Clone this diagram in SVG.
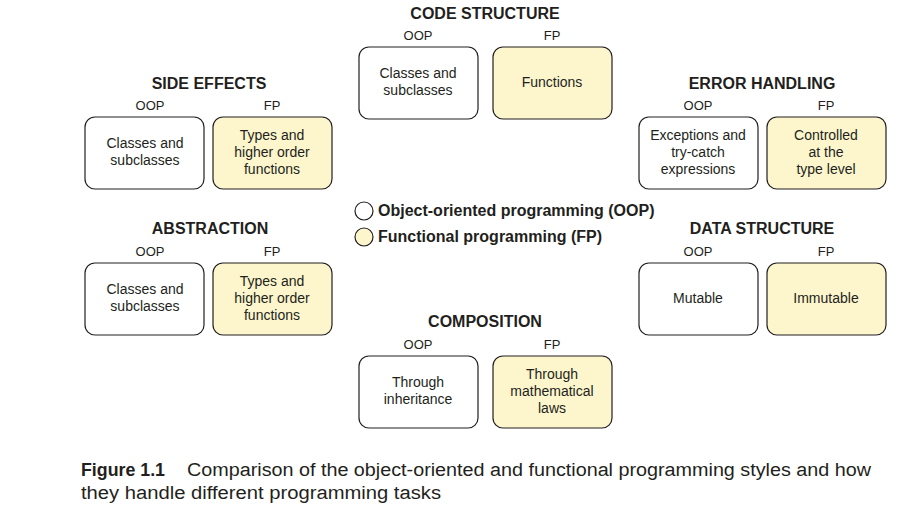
<svg xmlns="http://www.w3.org/2000/svg" width="913" height="515" viewBox="0 0 913 515">
<style>
.bg{fill:#fff}
.oop{fill:#fff;stroke:#231f20;stroke-width:1.2}
.fp{fill:#fdf6cd;stroke:#231f20;stroke-width:1.2}
.l{font-family:"Liberation Sans",Arial,sans-serif;font-size:13px;fill:#231f20;text-anchor:middle}
.t{font-family:"Liberation Sans",Arial,sans-serif;font-size:14px;fill:#231f20;text-anchor:middle}
.h{font-family:"Liberation Sans",Arial,sans-serif;font-size:16px;font-weight:bold;fill:#231f20;text-anchor:middle}
.lg{font-family:"Liberation Sans",Arial,sans-serif;font-size:16px;font-weight:bold;fill:#231f20}
.cap{font-family:"Liberation Sans",Arial,sans-serif;font-size:18px;fill:#231f20}
</style>
<rect class="bg" width="913" height="515"/>
<g id="code-structure">
<text class="h" x="485" y="19">CODE STRUCTURE</text>
<text class="l" x="418" y="40">OOP</text>
<text class="l" x="552" y="40">FP</text>
<rect class="oop" x="359" y="47" width="119" height="72" rx="10"/>
<text class="t" x="418" y="78">Classes and</text>
<text class="t" x="418" y="95">subclasses</text>
<rect class="fp" x="493" y="47" width="119" height="72" rx="10"/>
<text class="t" x="552" y="87">Functions</text>
</g>
<g id="side-effects">
<text class="h" x="209" y="89">SIDE EFFECTS</text>
<text class="l" x="150" y="110">OOP</text>
<text class="l" x="272" y="110">FP</text>
<rect class="oop" x="85" y="117" width="119" height="72" rx="10"/>
<text class="t" x="145" y="148">Classes and</text>
<text class="t" x="145" y="165">subclasses</text>
<rect class="fp" x="213" y="117" width="119" height="72" rx="10"/>
<text class="t" x="272" y="140">Types and</text>
<text class="t" x="272" y="157">higher order</text>
<text class="t" x="272" y="174">functions</text>
</g>
<g id="error-handling">
<text class="h" x="762" y="89">ERROR HANDLING</text>
<text class="l" x="698" y="110">OOP</text>
<text class="l" x="826" y="110">FP</text>
<rect class="oop" x="639" y="117" width="119" height="72" rx="10"/>
<text class="t" x="698" y="140">Exceptions and</text>
<text class="t" x="698" y="157">try-catch</text>
<text class="t" x="698" y="174">expressions</text>
<rect class="fp" x="767" y="117" width="119" height="72" rx="10"/>
<text class="t" x="826" y="140">Controlled</text>
<text class="t" x="826" y="157">at the</text>
<text class="t" x="826" y="174">type level</text>
</g>
<g id="legend">
<circle cx="364" cy="211" r="9" fill="#fff" stroke="#231f20" stroke-width="1.2"/>
<text class="lg" x="378" y="216">Object-oriented programming (OOP)</text>
<circle cx="364" cy="237" r="9" fill="#fdf6cd" stroke="#231f20" stroke-width="1.2"/>
<text class="lg" x="378" y="242">Functional programming (FP)</text>
</g>
<g id="abstraction">
<text class="h" x="210" y="234">ABSTRACTION</text>
<text class="l" x="150" y="256">OOP</text>
<text class="l" x="272" y="256">FP</text>
<rect class="oop" x="85" y="263" width="119" height="72" rx="10"/>
<text class="t" x="145" y="294">Classes and</text>
<text class="t" x="145" y="311">subclasses</text>
<rect class="fp" x="213" y="263" width="119" height="72" rx="10"/>
<text class="t" x="272" y="286">Types and</text>
<text class="t" x="272" y="303">higher order</text>
<text class="t" x="272" y="320">functions</text>
</g>
<g id="data-structure">
<text class="h" x="762" y="234">DATA STRUCTURE</text>
<text class="l" x="698" y="256">OOP</text>
<text class="l" x="826" y="256">FP</text>
<rect class="oop" x="639" y="263" width="119" height="72" rx="10"/>
<text class="t" x="698" y="303">Mutable</text>
<rect class="fp" x="767" y="263" width="119" height="72" rx="10"/>
<text class="t" x="826" y="303">Immutable</text>
</g>
<g id="composition">
<text class="h" x="485" y="327">COMPOSITION</text>
<text class="l" x="418" y="349">OOP</text>
<text class="l" x="552" y="349">FP</text>
<rect class="oop" x="359" y="356" width="119" height="72" rx="10"/>
<text class="t" x="418" y="387">Through</text>
<text class="t" x="418" y="404">inheritance</text>
<rect class="fp" x="493" y="356" width="119" height="72" rx="10"/>
<text class="t" x="552" y="379">Through</text>
<text class="t" x="552" y="396">mathematical</text>
<text class="t" x="552" y="413">laws</text>
</g>
<g id="caption">
<text class="cap" x="81" y="476" font-weight="bold" font-size="17" textLength="84" lengthAdjust="spacingAndGlyphs">Figure 1.1</text>
<text class="cap" x="187" y="476" textLength="684" lengthAdjust="spacingAndGlyphs">Comparison of the object-oriented and functional programming styles and how</text>
<text class="cap" x="81" y="499" textLength="360" lengthAdjust="spacingAndGlyphs">they handle different programming tasks</text>
</g>
<g id="connectors"></g>
</svg>
